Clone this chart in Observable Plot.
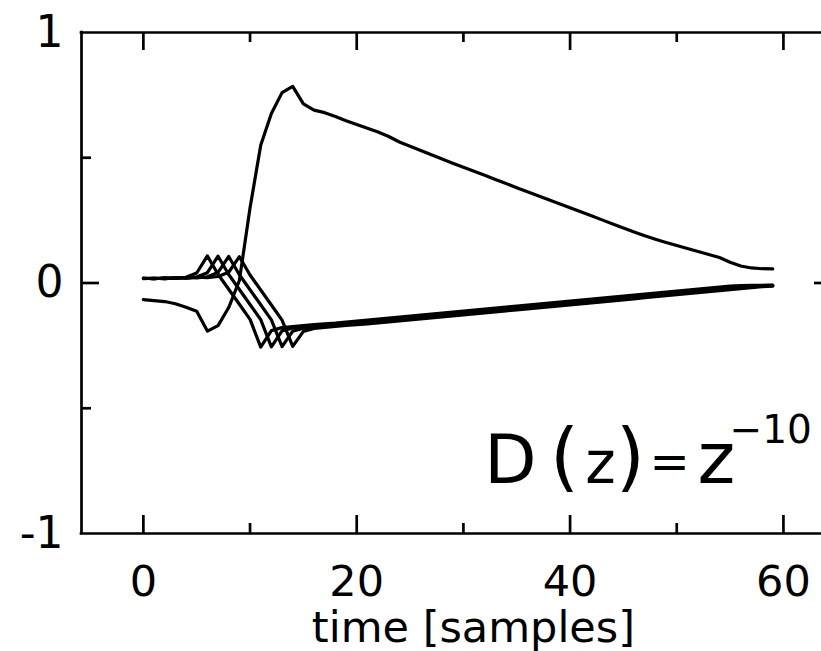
<!DOCTYPE html>
<html>
<head>
<meta charset="utf-8">
<script src="https://cdn.jsdelivr.net/npm/d3@7"></script>
<script src="https://cdn.jsdelivr.net/npm/@observablehq/plot@0.6"></script>
<style>
  html, body { margin: 0; padding: 0; background: #fff; overflow: hidden; }
  #chart svg { overflow: hidden; display: block; }
</style>
</head>
<body>
<div id="chart"></div>
<script>
// ---- data ----
const time = d3.range(0, 60); // samples 0..59

const mainResponse = [
  -0.066,-0.070,-0.074,-0.083,-0.097,-0.113,-0.192,-0.170,-0.098,0.010,
  0.300,0.550,0.677,0.760,0.785,0.715,0.690,0.680,0.665,0.648,
  0.633,0.618,0.603,0.585,0.563,0.546,0.529,0.512,0.495,0.478,
  0.462,0.446,0.430,0.413,0.397,0.380,0.364,0.348,0.332,0.316,
  0.300,0.284,0.268,0.252,0.236,0.220,0.204,0.189,0.175,0.162,
  0.150,0.138,0.126,0.114,0.102,0.083,0.068,0.060,0.057,0.056
];

const delayed1 = [
  0.020,0.016,0.021,0.018,0.023,0.040,0.108,0.035,-0.025,-0.085,
  -0.145,-0.256,-0.190,-0.178,-0.174,-0.170,-0.166,-0.163,-0.160,-0.156,
  -0.152,-0.148,-0.144,-0.140,-0.136,-0.132,-0.128,-0.124,-0.120,-0.116,
  -0.112,-0.108,-0.104,-0.100,-0.096,-0.092,-0.088,-0.084,-0.080,-0.076,
  -0.072,-0.068,-0.064,-0.060,-0.056,-0.052,-0.048,-0.044,-0.040,-0.036,
  -0.032,-0.028,-0.024,-0.020,-0.016,-0.012,-0.010,-0.009,-0.009,-0.008
];

const delayed2 = [
  0.018,0.020,0.016,0.022,0.019,0.024,0.041,0.107,0.034,-0.026,
  -0.086,-0.146,-0.255,-0.191,-0.179,-0.175,-0.171,-0.167,-0.164,-0.161,
  -0.157,-0.153,-0.149,-0.145,-0.141,-0.137,-0.133,-0.129,-0.125,-0.121,
  -0.117,-0.113,-0.109,-0.105,-0.101,-0.097,-0.093,-0.089,-0.085,-0.081,
  -0.077,-0.073,-0.069,-0.065,-0.061,-0.057,-0.053,-0.049,-0.045,-0.041,
  -0.037,-0.033,-0.029,-0.025,-0.021,-0.017,-0.013,-0.011,-0.010,-0.009
];

const delayed3 = [
  0.019,0.017,0.021,0.018,0.022,0.020,0.025,0.042,0.106,0.033,
  -0.027,-0.087,-0.147,-0.254,-0.192,-0.180,-0.176,-0.172,-0.168,-0.165,
  -0.162,-0.158,-0.154,-0.150,-0.146,-0.142,-0.138,-0.134,-0.130,-0.126,
  -0.122,-0.118,-0.114,-0.110,-0.106,-0.102,-0.098,-0.094,-0.090,-0.086,
  -0.082,-0.078,-0.074,-0.070,-0.066,-0.062,-0.058,-0.054,-0.050,-0.046,
  -0.042,-0.038,-0.034,-0.030,-0.026,-0.022,-0.018,-0.014,-0.012,-0.011
];

const delayed4 = [
  0.017,0.019,0.018,0.021,0.019,0.023,0.021,0.026,0.043,0.105,
  0.032,-0.028,-0.088,-0.148,-0.253,-0.193,-0.181,-0.177,-0.173,-0.169,
  -0.166,-0.163,-0.159,-0.155,-0.151,-0.147,-0.143,-0.139,-0.135,-0.131,
  -0.127,-0.123,-0.119,-0.115,-0.111,-0.107,-0.103,-0.099,-0.095,-0.091,
  -0.087,-0.083,-0.079,-0.075,-0.071,-0.067,-0.063,-0.059,-0.055,-0.051,
  -0.047,-0.043,-0.039,-0.035,-0.031,-0.027,-0.023,-0.019,-0.015,-0.013
];

const xTicks = [0, 10, 20, 30, 40, 50, 60];
const xTickLabels = [0, 20, 40, 60];
const yTicks = [-0.5, 0, 0.5];
const yTickLabels = [-1, 0, 1];
const xLabel = "time [samples]";

// ---- layout ----
const width = 821, height = 651;
const xDomain = [-5.8, 64.6], xRange = [81, 832];
const yDomain = [-1, 1], yRange = [533, 32];
const unitsPerPxX = (xDomain[1] - xDomain[0]) / (xRange[1] - xRange[0]);
const unitsPerPxY = (yDomain[1] - yDomain[0]) / (yRange[0] - yRange[1]);
const majorLen = 18, minorLen = 10;
const xLen = d => (xTickLabels.includes(d) ? majorLen : minorLen);
const yLen = d => (d === 0 ? majorLen : minorLen);

const seriesList = [
  ["main", mainResponse], ["d1", delayed1], ["d2", delayed2], ["d3", delayed3], ["d4", delayed4]
];
const rows = seriesList.flatMap(([name, vals]) => time.map((t, i) => ({series: name, t, v: vals[i]})));

const axisW = 2.7;

const chart = Plot.plot({
  width, height,
  marginLeft: 81, marginRight: 0, marginTop: 32, marginBottom: 118,
  style: {fontFamily: "DejaVu Sans", background: "white"},
  x: {domain: xDomain, range: xRange, axis: null},
  y: {domain: yDomain, range: yRange, axis: null},
  marks: [
    // frame
    Plot.ruleY(yDomain, {y: d => d, x1: xDomain[0], x2: xDomain[1], stroke: "black", strokeWidth: axisW, strokeLinecap: "square"}),
    Plot.ruleX(xDomain, {x: d => d, y1: yDomain[0], y2: yDomain[1], stroke: "black", strokeWidth: axisW, strokeLinecap: "square"}),
    // ticks bottom (pointing up) and top (pointing down)
    Plot.ruleX(xTicks, {x: d => d, y1: yDomain[0], y2: d => yDomain[0] + xLen(d) * unitsPerPxY, stroke: "black", strokeWidth: axisW}),
    Plot.ruleX(xTicks, {x: d => d, y1: yDomain[1], y2: d => yDomain[1] - xLen(d) * unitsPerPxY, stroke: "black", strokeWidth: axisW}),
    // ticks left (pointing right) and right (pointing left)
    Plot.ruleY(yTicks, {y: d => d, x1: xDomain[0], x2: d => xDomain[0] + yLen(d) * unitsPerPxX, stroke: "black", strokeWidth: axisW}),
    Plot.ruleY(yTicks, {y: d => d, x1: xDomain[1], x2: d => xDomain[1] - yLen(d) * unitsPerPxX, stroke: "black", strokeWidth: axisW}),
    // data
    Plot.line(rows, {x: "t", y: "v", z: "series", stroke: "black", strokeWidth: 3.2, curve: "linear"}),
    // tick labels
    Plot.text(xTickLabels, {x: d => d, y: yDomain[0], text: d => String(d), dy: 62, lineAnchor: "bottom", fontSize: 43, fill: "black"}),
    Plot.text(yTickLabels, {x: xDomain[0], y: d => d, text: d => (d < 0 ? "-" + Math.abs(d) : String(d)), textAnchor: "end", dx: -18, lineAnchor: "middle", fontSize: 44, fill: "black"}),
    Plot.text([xLabel], {x: (xTickLabels[0] + xTickLabels[xTickLabels.length - 1]) / 2, y: yDomain[0], text: d => d, dx: 10, dy: 108, lineAnchor: "bottom", fontSize: 43, fill: "black"}),
    // annotation D(z)=z^-10
    Plot.text(["D"], {frameAnchor: "top-left", text: d => d, dx: 429, dy: 450, textAnchor: "middle", lineAnchor: "bottom", fontSize: 68, fill: "black"}),
    Plot.text(["("], {frameAnchor: "top-left", text: d => d, dx: 483, dy: 449, textAnchor: "middle", lineAnchor: "bottom", fontSize: 74, fill: "black"}),
    Plot.text(["z"], {frameAnchor: "top-left", text: d => d, dx: 519, dy: 450, textAnchor: "middle", lineAnchor: "bottom", fontSize: 58, fill: "black"}),
    Plot.text([")"], {frameAnchor: "top-left", text: d => d, dx: 549, dy: 449, textAnchor: "middle", lineAnchor: "bottom", fontSize: 74, fill: "black"}),
    Plot.text(["="], {frameAnchor: "top-left", text: d => d, dx: 588, dy: 445, textAnchor: "middle", lineAnchor: "bottom", fontSize: 48, fill: "black"}),
    Plot.text(["z"], {frameAnchor: "top-left", text: d => d, dx: 635, dy: 450, textAnchor: "middle", lineAnchor: "bottom", fontSize: 72, fill: "black"}),
    Plot.text(["\u221210"], {frameAnchor: "top-left", text: d => d, dx: 648, dy: 410, textAnchor: "start", lineAnchor: "bottom", fontSize: 39, fill: "black"})
  ]
});

document.getElementById("chart").appendChild(chart);
</script>
</body>
</html>
